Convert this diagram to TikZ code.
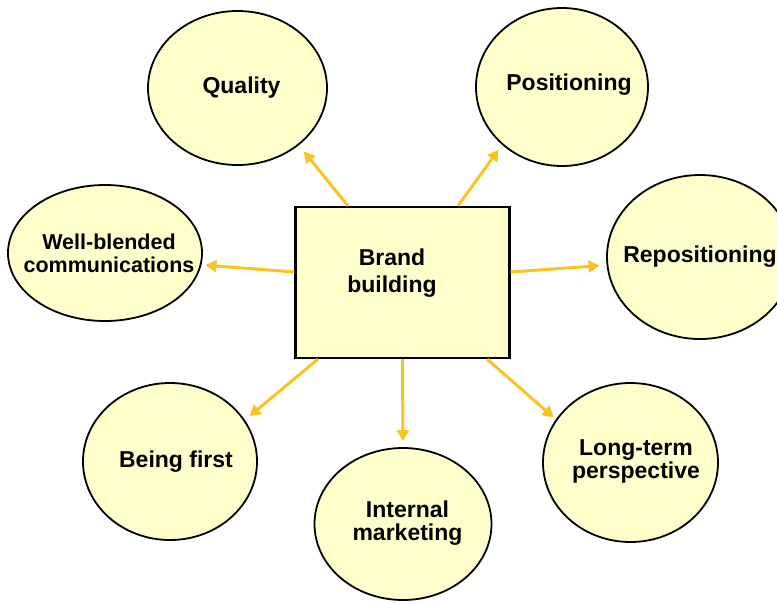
\documentclass[tikz,border=0pt]{standalone}
\usepackage{fontspec}
\setmainfont{Liberation Sans}
\usetikzlibrary{shapes.geometric,arrows.meta}
\definecolor{bubble}{RGB}{255,255,204}
\definecolor{gold}{RGB}{250,196,32}
\begin{document}
\begin{tikzpicture}[x=1pt,y=-1pt,
  bub/.style={ellipse,draw=black,line width=1.8pt,fill=bubble,inner sep=0pt},
  hub/.style={rectangle,draw=black,line width=2.2pt,fill=bubble,inner sep=0pt,minimum width=214pt,minimum height=151pt},
  lbl/.style={font=\fontsize{23}{24}\selectfont\bfseries,align=center,inner sep=0pt},
  arr/.style={draw=gold,line width=3pt,-{Triangle[length=11pt,width=12pt]}}]
\clip (0,0) rectangle (777,603);
\fill[white] (0,0) rectangle (777,603);
% hub
\node[hub] (b) at (402.5,282.5) {};
\node[lbl,font=\fontsize{23}{27}\selectfont\bfseries] (bt) at (392,273.5) {Brand\\building};
% bubbles
\node[bub,minimum width=179pt,minimum height=154pt] (q) at (237.5,88) {};
\node[lbl] (qt) at (241.5,88) {Quality};
\node[bub,minimum width=172pt,minimum height=158pt] (p) at (562,87) {};
\node[lbl] (pt) at (569,85) {Positioning};
\node[bub,minimum width=194pt,minimum height=136pt] (w) at (105,253) {};
\node[lbl,font=\fontsize{21.5}{23.5}\selectfont\bfseries] (wt) at (109,253.5) {Well-blended\\communications};
\node[bub,minimum width=186pt,minimum height=164pt] (r) at (700,257) {};
\node[lbl] (rt) at (700,257) {Repositioning};
\node[bub,minimum width=174pt,minimum height=157pt] (f) at (170,461.5) {};
\node[lbl] (ft) at (176,462) {Being first};
\node[bub,minimum width=177pt,minimum height=152pt] (i) at (403,524) {};
\node[lbl,font=\fontsize{23}{23}\selectfont\bfseries] (it) at (407.5,523.5) {Internal\\marketing};
\node[bub,minimum width=175pt,minimum height=159pt] (l) at (630.5,462.5) {};
\node[lbl,font=\fontsize{23}{23}\selectfont\bfseries] (lt) at (636,461.5) {Long-term\\perspective};
% arrows
\draw[arr,shorten >=8pt] ([xshift=-54.5pt]b.north) -- (q.-43);
\draw[arr,shorten >=6pt] ([xshift=55.5pt]b.north) -- (p.224);
\draw[arr,shorten >=4pt] ([yshift=10.5pt]b.west) -- (w.-7);
\draw[arr,shorten >=7pt] ([yshift=10.5pt]b.east) -- (r.185);
\draw[arr,shorten >=6pt] ([xshift=-84.5pt]b.south) -- (f.29);
\draw[arr,shorten >=6pt] (b.south) -- (i.90);
\draw[arr,shorten >=3pt] ([xshift=84.5pt]b.south) -- (l.150);
\end{tikzpicture}
\end{document}
